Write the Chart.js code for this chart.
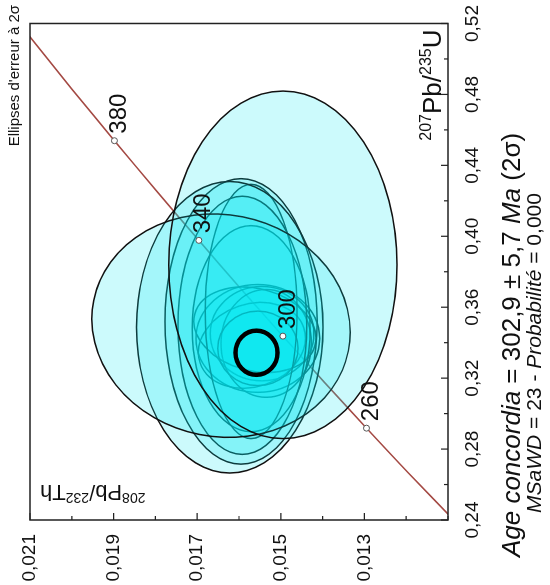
<!DOCTYPE html>
<html>
<head>
<meta charset="utf-8">
<script src="https://cdn.jsdelivr.net/npm/chart.js@4.4.0/dist/chart.umd.min.js"></script>
<style>
html, body { margin: 0; padding: 0; background: #fff; overflow: hidden; }
/* the diagram is drawn upright, then turned a quarter turn like the original figure */
#wrap { position: absolute; left: 0; top: 0; width: 585px; height: 550px;
        transform-origin: 0 0; transform: translateY(585px) rotate(-90deg); }
</style>
</head>
<body>
<div id="wrap"><canvas id="chart" width="585" height="550"></canvas></div>
<script>
// concordia curve (age in Ma, 207Pb/235U, 208Pb/232Th)
var concAge = [215, 240, 260, 280, 300, 320, 340, 360, 380, 400, 425];
var concU   = [0.2358, 0.2666, 0.2918, 0.3175, 0.3437, 0.3705, 0.3977, 0.4255, 0.4539, 0.4828, 0.5198];
var concTh  = [0.01069, 0.01195, 0.01295, 0.01395, 0.01495, 0.01596, 0.01696, 0.01797, 0.01898, 0.01999, 0.02125];

// labelled age marks on the concordia
var markAge = [260, 300, 340, 380];
var markU   = [0.2918, 0.3437, 0.3977, 0.4539];
var markTh  = [0.01295, 0.01495, 0.01696, 0.01898];

// analyses: centre, 2 sigma half widths, error correlation (drawing order)
var ellU   = [0.3424, 0.3451, 0.3385, 0.3396, 0.3473, 0.3368, 0.3479, 0.3576, 0.3498, 0.3520, 0.3487, 0.3496, 0.3839];
var ellTh  = [0.01555, 0.01545, 0.01569, 0.01535, 0.01562, 0.01555, 0.01571, 0.01571, 0.01592, 0.01595, 0.01622, 0.01643, 0.01495];
var ellSU  = [0.0304, 0.0266, 0.0242, 0.0304, 0.0241, 0.0210, 0.0581, 0.0717, 0.0728, 0.0805, 0.0822, 0.0630, 0.0980];
var ellSTh = [0.00148, 0.00124, 0.00128, 0.00108, 0.00146, 0.00096, 0.00141, 0.00110, 0.00154, 0.00182, 0.00223, 0.00309, 0.00273];
var ellRho = [0, 0, -0.17, 0, 0.2, 0, 0, 0, 0, 0, 0, 0.06, 0];

// concordia age (mean)
var meanU = 0.33433, meanTh = 0.015581, meanSU = 0.01245, meanSTh = 0.000502;

// ticks
var uTicks  = [0.24, 0.26, 0.28, 0.30, 0.32, 0.34, 0.36, 0.38, 0.40, 0.42, 0.44, 0.46, 0.48, 0.50, 0.52];
var uLabels = ['0,24', '', '0,28', '', '0,32', '', '0,36', '', '0,40', '', '0,44', '', '0,48', '', '0,52'];
var thTicks  = [0.011, 0.012, 0.013, 0.014, 0.015, 0.016, 0.017, 0.018, 0.019, 0.020, 0.021];
var thLabels = ['', '', '0,013', '', '0,015', '', '0,017', '', '0,019', '', '0,021'];

var FONT = '"Liberation Sans", Arial, sans-serif';

function ellipsePath(ctx, xs, ys, cx, cy, sx, sy, rho) {
  var px = xs.getPixelForValue(cx), py = ys.getPixelForValue(cy);
  var ax = Math.abs(xs.getPixelForValue(cx + sx) - px);
  var ay = Math.abs(ys.getPixelForValue(cy + sy) - py);
  var a = ax * ax, d = ay * ay, c = -rho * ax * ay; // pixel y is flipped
  var tr = (a + d) / 2, det = Math.sqrt((a - d) * (a - d) / 4 + c * c);
  var ang = 0.5 * Math.atan2(2 * c, a - d);
  ctx.beginPath();
  ctx.ellipse(px, py, Math.sqrt(tr + det), Math.sqrt(Math.max(tr - det, 0.1)), ang, 0, Math.PI * 2);
}

function drawRuns(ctx, runs, x, y) {
  var total = 0;
  runs.forEach(function(r) { ctx.font = r.font; total += ctx.measureText(r.t).width; });
  var cx = x - total / 2;
  runs.forEach(function(r) {
    ctx.font = r.font;
    ctx.fillText(r.t, cx, y + (r.dy || 0));
    cx += ctx.measureText(r.t).width;
  });
  return total;
}

var ellipsePlugin = {
  id: 'ellipses',
  beforeDatasetDraw: function(chart, args) {
    if (args.index !== 1) return;
    var ctx = chart.ctx, xs = chart.scales.x, ys = chart.scales.y, a = chart.chartArea;
    ctx.save();
    ctx.beginPath();
    ctx.rect(a.left, a.top, a.right - a.left, a.bottom - a.top);
    ctx.clip();
    for (var i = 0; i < ellU.length; i++) {
      ellipsePath(ctx, xs, ys, ellU[i], ellTh[i], ellSU[i], ellSTh[i], ellRho[i]);
      ctx.fillStyle = 'rgba(0, 232, 238, 0.2)';
      ctx.fill();
      ctx.strokeStyle = '#111';
      ctx.lineWidth = 1.5;
      ctx.stroke();
    }
    ellipsePath(ctx, xs, ys, meanU, meanTh, meanSU, meanSTh, 0);
    ctx.lineWidth = 4.5;
    ctx.strokeStyle = '#000';
    ctx.stroke();
    ctx.restore();
  },
  afterDatasetsDraw: function(chart) {
    var ctx = chart.ctx, xs = chart.scales.x, ys = chart.scales.y;
    ctx.save();
    ctx.fillStyle = '#111';
    ctx.font = '24px ' + FONT;
    ctx.textAlign = 'left';
    ctx.textBaseline = 'middle';
    for (var i = 0; i < markAge.length; i++) {
      ctx.fillText(String(markAge[i]), xs.getPixelForValue(markU[i]) + 7, ys.getPixelForValue(markTh[i]) + 5);
    }
    ctx.restore();
  },
  afterDraw: function(chart) {
    var ctx = chart.ctx, a = chart.chartArea, xs = chart.scales.x, ys = chart.scales.y;
    ctx.save();
    // frame
    ctx.strokeStyle = '#222';
    ctx.lineWidth = 1.5;
    ctx.strokeRect(a.left, a.top, a.right - a.left, a.bottom - a.top);
    // inward ticks on the two axes
    ctx.lineWidth = 1.2;
    ctx.beginPath();
    xs.ticks.forEach(function(t, i) {
      var p = xs.getPixelForValue(t.value), len = uLabels[i] ? 7 : 4;
      ctx.moveTo(p, a.bottom); ctx.lineTo(p, a.bottom - len);
    });
    ys.ticks.forEach(function(t, i) {
      var p = ys.getPixelForValue(t.value), len = thLabels[i] ? 7 : 4;
      ctx.moveTo(a.left, p); ctx.lineTo(a.left + len, p);
    });
    ctx.stroke();

    ctx.fillStyle = '#111';
    ctx.textBaseline = 'alphabetic';
    ctx.textAlign = 'left';
    // x axis title, inside the frame
    var xt = [
      { t: '207', font: '16px ' + FONT, dy: -10 },
      { t: 'Pb/', font: '26px ' + FONT },
      { t: '235', font: '16px ' + FONT, dy: -10 },
      { t: 'U', font: '26px ' + FONT }
    ];
    var w = 0;
    xt.forEach(function(r) { ctx.font = r.font; w += ctx.measureText(r.t).width; });
    drawRuns(ctx, xt, a.right - 6 - w / 2, a.bottom - 7);
    // y axis title, inside the frame, reading upwards
    ctx.save();
    ctx.translate(a.left + 35, a.top + 10);
    ctx.rotate(-Math.PI / 2);
    var yt = [
      { t: '208', font: '14px ' + FONT, dy: -8 },
      { t: 'Pb/', font: '22px ' + FONT },
      { t: '232', font: '14px ' + FONT, dy: -8 },
      { t: 'Th', font: '22px ' + FONT }
    ];
    w = 0;
    yt.forEach(function(r) { ctx.font = r.font; w += ctx.measureText(r.t).width; });
    drawRuns(ctx, yt, -w / 2, 0);
    ctx.restore();
    // error ellipse note
    ctx.font = '15px ' + FONT;
    ctx.textAlign = 'right';
    ctx.fillText("Ellipses d'erreur à 2σ", 580, 19);
    ctx.textAlign = 'left';
    // result lines
    drawRuns(ctx, [
      { t: 'Age concordia', font: 'italic 26px ' + FONT },
      { t: ' = 302,9 ± 5,7 ', font: '26px ' + FONT },
      { t: 'Ma', font: 'italic 26px ' + FONT },
      { t: ' (2σ)', font: '26px ' + FONT }
    ], 240, 520);
    drawRuns(ctx, [
      { t: 'MSaWD', font: 'italic 21px ' + FONT },
      { t: ' = 23 - ', font: '21px ' + FONT },
      { t: 'Probabilité', font: 'italic 21px ' + FONT },
      { t: ' = 0,000', font: '21px ' + FONT }
    ], 232, 541);
    ctx.restore();
  }
};

var concPts = concU.map(function(u, i) { return { x: u, y: concTh[i] }; });
var markPts = markU.map(function(u, i) { return { x: u, y: markTh[i] }; });

new Chart(document.getElementById('chart'), {
  type: 'line',
  data: {
    datasets: [
      {
        label: 'Concordia',
        data: concPts,
        borderColor: '#a44a44',
        borderWidth: 1.6,
        pointRadius: 0,
        tension: 0.3,
        fill: false,
        order: 2
      },
      {
        label: 'Ages',
        data: markPts,
        showLine: false,
        pointRadius: 3,
        pointBackgroundColor: '#fff',
        pointBorderColor: '#555',
        pointBorderWidth: 1,
        order: 1
      }
    ]
  },
  options: {
    responsive: false,
    animation: false,
    devicePixelRatio: 1,
    layout: { padding: { top: 30, right: 14, left: 0, bottom: 0 } },
    plugins: { legend: { display: false }, tooltip: { enabled: false } },
    scales: {
      x: {
        type: 'linear', min: 0.24, max: 0.52,
        grid: { display: false }, border: { display: false },
        afterBuildTicks: function(s) { s.ticks = uTicks.map(function(v) { return { value: v }; }); },
        afterFit: function(s) { s.height = 102; },
        ticks: {
          autoSkip: false, maxRotation: 0, padding: 5, color: '#111',
          font: { family: FONT, size: 19 },
          callback: function(v, i) { return uLabels[i]; }
        }
      },
      y: {
        type: 'linear', min: 0.011, max: 0.021,
        grid: { display: false }, border: { display: false },
        afterBuildTicks: function(s) { s.ticks = thTicks.map(function(v) { return { value: v }; }); },
        afterFit: function(s) { s.width = 65; },
        ticks: {
          autoSkip: false, padding: 6, color: '#111',
          font: { family: FONT, size: 19 },
          callback: function(v, i) { return thLabels[i]; }
        }
      }
    }
  },
  plugins: [ellipsePlugin]
});
</script>
</body>
</html>
